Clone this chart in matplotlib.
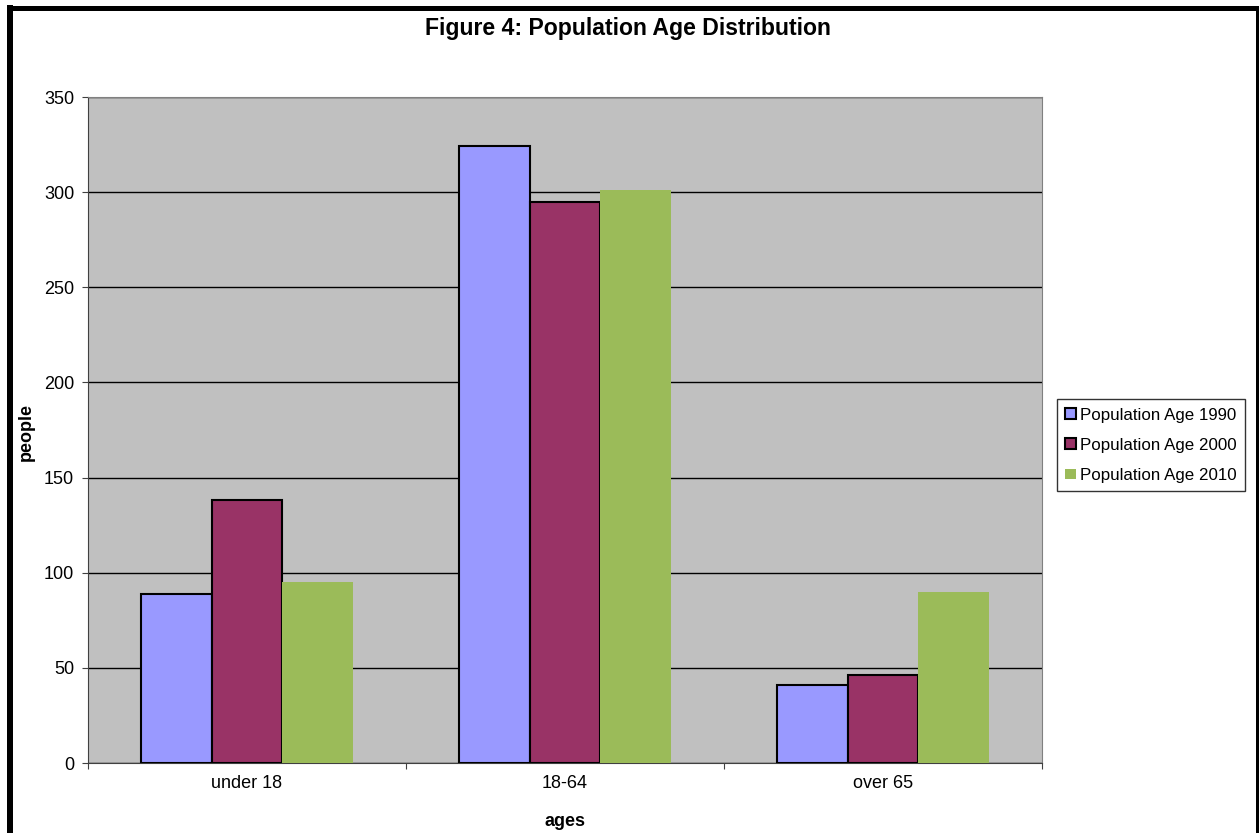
import matplotlib.pyplot as plt
import numpy as np
from matplotlib.lines import Line2D

plt.rcParams['font.family'] = ['Liberation Sans', 'DejaVu Sans']

categories = ["under 18", "18-64", "over 65"]
series_names = ["Population Age 1990", "Population Age 2000", "Population Age 2010"]
pop_1990 = [89, 324, 41]
pop_2000 = [138, 295, 46]
pop_2010 = [95, 301, 90]
y_ticks = [0, 50, 100, 150, 200, 250, 300, 350]


def main():
    W, H = 1259, 833
    fig = plt.figure(figsize=(W / 100, H / 100), dpi=100)
    ax = fig.add_axes([88 / W, 70 / H, 954 / W, 666 / H])
    ax.set_facecolor('#C0C0C0')

    # Excel-style clustered bars: gap width 150%
    w = 1 / 4.5
    x = np.arange(len(categories))
    ax.bar(x - w, pop_1990, w, color='#9999FF', edgecolor='black', linewidth=1.5,
           label=series_names[0], zorder=3)
    ax.bar(x, pop_2000, w, color='#993366', edgecolor='black', linewidth=1.5,
           label=series_names[1], zorder=3)
    ax.bar(x + w, pop_2010, w, color='#9BBB59', edgecolor='none',
           label=series_names[2], zorder=3)

    ax.set_xlim(-0.5, len(categories) - 0.5)
    ax.set_ylim(0, 350)
    ax.set_yticks(y_ticks)
    ax.yaxis.grid(True, color='black', linewidth=1, zorder=0)
    ax.set_axisbelow(True)

    # ticks at category boundaries, labels at centres
    ax.set_xticks(np.arange(len(categories) + 1) - 0.5)
    ax.set_xticklabels([])
    ax.set_xticks(x, minor=True)
    ax.set_xticklabels(categories, minor=True)
    ax.tick_params(axis='x', which='minor', length=0, pad=9, labelsize=13)
    ax.tick_params(axis='x', which='major', direction='out', length=4, color='#404040')
    ax.tick_params(axis='y', direction='out', length=4, color='#404040', labelsize=13, pad=6)

    for side in ['top', 'right']:
        ax.spines[side].set_color('#808080')
    for side in ['left', 'bottom']:
        ax.spines[side].set_color('#404040')

    ax.set_xlabel("ages", fontsize=13, fontweight='bold')
    ax.xaxis.set_label_coords(0.5, (763 - 821) / 666)
    ax.xaxis.label.set_verticalalignment('center')
    ax.set_ylabel("people", fontsize=13, fontweight='bold')
    ax.yaxis.set_label_coords((26 - 88) / 954, 0.497)
    ax.yaxis.label.set_verticalalignment('center')

    fig.text(628 / W, 1 - 28 / H, "Figure 4: Population Age Distribution",
             fontsize=16.6, fontweight='bold', ha='center', va='center')

    leg = ax.legend(loc='center left', bbox_to_anchor=(1.0157, 0.477), fontsize=12.2,
                    frameon=True, fancybox=False, edgecolor='black',
                    handlelength=0.6, handleheight=0.6, handletextpad=0.25,
                    labelspacing=0.89, borderpad=0.5, borderaxespad=0)
    leg.get_frame().set_linewidth(1)

    # outer chart border (left, top, right)
    fig.add_artist(Line2D([10 / W, 10 / W], [0, 1 - 7.5 / H], transform=fig.transFigure,
                          color='black', linewidth=6 * 0.72, solid_capstyle='projecting'))
    fig.add_artist(Line2D([10 / W, 1256.5 / W], [1 - 7.5 / H, 1 - 7.5 / H],
                          transform=fig.transFigure, color='black', linewidth=5 * 0.72,
                          solid_capstyle='projecting'))
    fig.add_artist(Line2D([1256.5 / W, 1256.5 / W], [0, 1 - 7.5 / H], transform=fig.transFigure,
                          color='black', linewidth=3 * 0.72))

    fig.savefig('out.png', dpi=100)


if __name__ == '__main__':
    main()
